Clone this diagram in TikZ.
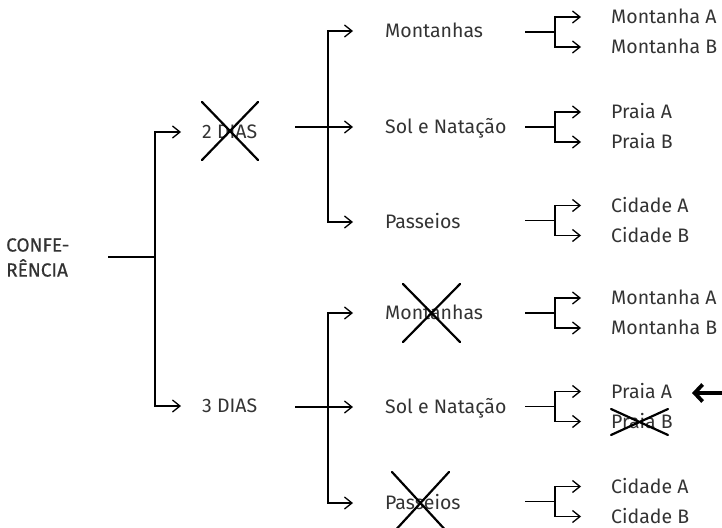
\documentclass[tikz,border=0pt]{standalone}
\usepackage{fontspec}
\setmainfont{Fira Sans}
\usetikzlibrary{arrows.meta}
\definecolor{ink}{HTML}{333333}
\tikzset{
  lbl/.style={anchor=west, inner sep=0pt, text=ink,
    font=\fontsize{19.5}{23}\selectfont, text height=13.4pt, text depth=0pt},
  hdr/.style={anchor=west, inner sep=0pt, text=ink, align=left,
    font=\fontsize{19}{25}\selectfont\addfontfeatures{FakeBold=0.5}},
  wire/.style={line width=1.3pt, line cap=butt, line join=miter},
  tip/.style={wire, -{Straight Barb[length=7.5pt,width=12pt]}},
  strike/.style={line width=2.2pt, line cap=round},
  pointer/.style={line width=3.8pt, -{Straight Barb[length=8pt,width=17pt]}},
}
\begin{document}
\begin{tikzpicture}[x=1pt,y=-1pt]
\useasboundingbox (0,0) rectangle (722,527);

% root
\node[hdr] (conf) at (6,257.5) {CONFE-\\RÊNCIA};
\coordinate (c0) at (108,257);
\coordinate (j0) at (155,257);
\draw[wire] (c0) -- (j0);

% durations
\node[lbl] (d2) at (202,132) {2 DIAS};
\node[lbl] (d3) at (202,406) {3 DIAS};
\draw[tip] (j0) |- ([xshift=-21pt]d2.west);
\draw[tip] (j0) |- ([xshift=-21pt]d3.west);

% activity groups
\foreach \g/\yy/\ya/\yb/\yc in {u/127/31/127/222, l/407/313/407/503} {
  \coordinate (\g s) at (295,\yy);
  \coordinate (\g j) at (328,\yy);
  \node[lbl] (\g m) at (385,\ya) {Montanhas};
  \node[lbl] (\g n) at (385,\yb) {Sol e Natação};
  \node[lbl] (\g p) at (385,\yc) {Passeios};
  \draw[wire] (\g s) -- (\g j);
  \draw[tip] (\g j) |- ([xshift=-32pt]\g m.west);
  \draw[tip] (\g j) -- ([xshift=-32pt]\g n.west);
  \draw[tip] (\g j) |- ([xshift=-32pt]\g p.west);
}

% destinations
\foreach \n/\y/\a/\b in {um/32/Montanha A/Montanha B, un/127/Praia A/Praia B,
    up/220.5/Cidade A/Cidade B, lm/313/Montanha A/Montanha B,
    ln/406.5/Praia A/Praia B, lp/501.5/Cidade A/Cidade B} {
  \coordinate (\n s) at (525,\y);
  \coordinate (\n j) at (555,\y);
  \node[lbl] (\n a) at (611,\y-15) {\a};
  \node[lbl] (\n b) at (611,\y+15) {\b};
  \draw[wire] (\n s) -- (\n j);
  \draw[tip] (\n j) |- ([xshift=-30pt]\n a.west);
  \draw[tip] (\n j) |- ([xshift=-30pt]\n b.west);
}

% crossed-out choices
\draw[strike] (202,102) -- (258,160) (258,102) -- (202,160);
\draw[strike] (403,284) -- (460,342) (460,284) -- (403,342);
\draw[strike] (392,472) -- (449,534) (449,472) -- (392,534);
\draw[strike] (611,409) -- (668,435) (668,409) -- (611,435);

% marker on the chosen option
\coordinate (ptr) at (735,393);
\coordinate (ptrtip) at (692,393);
\draw[pointer] (ptr) -- (ptrtip);
\end{tikzpicture}
\end{document}
